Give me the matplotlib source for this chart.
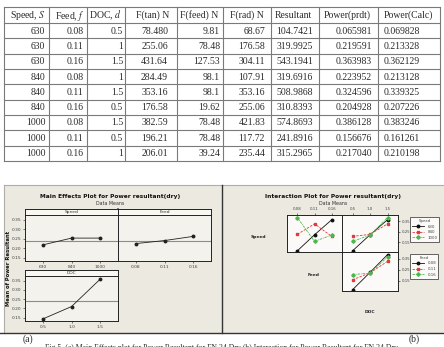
import matplotlib
matplotlib.use('Agg')
import matplotlib.pyplot as plt
from matplotlib.patches import Rectangle
from matplotlib.lines import Line2D

plt.rcParams['mathtext.fontset'] = 'stix'

# table data (as printed)
headers = ['Speed, $S$', 'Feed, $f$', 'DOC, $d$', 'F(tan) N', 'F(feed) N', 'F(rad) N',
           'Resultant', 'Power(prdt)', 'Power(Calc)']
speed_col = ['630', '630', '630', '840', '840', '840', '1000', '1000', '1000']
feed_col = ['0.08', '0.11', '0.16', '0.08', '0.11', '0.16', '0.08', '0.11', '0.16']
doc_col = ['0.5', '1', '1.5', '1', '1.5', '0.5', '1.5', '0.5', '1']
ftan_col = ['78.480', '255.06', '431.64', '284.49', '353.16', '176.58', '382.59', '196.21', '206.01']
ffeed_col = ['9.81', '78.48', '127.53', '98.1', '98.1', '19.62', '78.48', '78.48', '39.24']
frad_col = ['68.67', '176.58', '304.11', '107.91', '353.16', '255.06', '421.83', '117.72', '235.44']
result_col = ['104.7421', '319.9925', '543.1941', '319.6916', '508.9868', '310.8393',
              '574.8693', '241.8916', '315.2965']
pprdt_col = ['0.065981', '0.219591', '0.363983', '0.223952', '0.324596', '0.204928',
             '0.386128', '0.156676', '0.217040']
pcalc_col = ['0.069828', '0.213328', '0.362129', '0.213128', '0.339325', '0.207226',
             '0.383246', '0.161261', '0.210198']

# main effects means
speed_levels = ['630', '840', '1000']
feed_levels = ['0.08', '0.11', '0.16']
doc_levels = ['0.5', '1.0', '1.5']
speed_means = [0.217, 0.253, 0.253]
feed_means = [0.224, 0.240, 0.262]
doc_means = [0.143, 0.210, 0.358]
grand_mean = 0.240

# interaction means
speed_by_feed = {'630': [0.066, 0.220, 0.364], '840': [0.224, 0.325, 0.205], '1000': [0.386, 0.157, 0.217]}
speed_by_doc = {'630': [0.066, 0.220, 0.364], '840': [0.205, 0.224, 0.325], '1000': [0.157, 0.217, 0.386]}
feed_by_doc = {'0.08': [0.066, 0.224, 0.386], '0.11': [0.157, 0.220, 0.325], '0.16': [0.205, 0.217, 0.364]}

W, H = 444, 347
beige = '#ECE9E1'
txtc = '#2a2a2a'


def box(x0, y0, x1, y1):
    return [x0 / W, 1 - y1 / H, (x1 - x0) / W, (y1 - y0) / H]


fig = plt.figure(figsize=(4.44, 3.47), dpi=100)
bg = fig.add_axes([0, 0, 1, 1])
bg.set_xlim(0, W)
bg.set_ylim(H, 0)
bg.axis('off')

# ---- table
col_edges = [4, 49.3, 87.3, 125, 177, 222.5, 271, 319, 378, 440]
row_edges = [7.3, 22.7, 38.3, 53.5, 69, 84.3, 99.5, 114.7, 130, 145.5, 160.8]
for x in col_edges:
    bg.plot([x, x], [row_edges[0], row_edges[-1]], color='#7a7a7a', lw=0.8)
for y in row_edges:
    bg.plot([col_edges[0], col_edges[-1]], [y, y], color='#7a7a7a', lw=0.8)

cols = [speed_col, feed_col, doc_col, ftan_col, ffeed_col, frad_col, result_col, pprdt_col, pcalc_col]
head_pad = [6, 6, 2, 11, 3, 7, 4, 5, 6]
right_pad = [4, 4, 2, 9, 2.5, 6, 6, 6, None]
for j, name in enumerate(headers):
    x0, x1 = col_edges[j], col_edges[j + 1]
    yc = (row_edges[0] + row_edges[1]) / 2
    t = bg.text(x0 + head_pad[j], yc + 0.5, name, family='Liberation Serif', fontsize=7,
                color=txtc, ha='left', va='center')
    t.set_clip_box(bg.transData.transform_bbox(
        matplotlib.transforms.Bbox([[x0, row_edges[0]], [x1 - 0.5, row_edges[1]]])))
    for i, v in enumerate(cols[j]):
        yc = (row_edges[i + 1] + row_edges[i + 2]) / 2
        if right_pad[j] is None:
            bg.text(x0 + 6, yc + 0.5, v, family='Liberation Serif', fontsize=7,
                    color=txtc, ha='left', va='center')
        else:
            bg.text(x1 - right_pad[j], yc + 0.5, v, family='Liberation Serif', fontsize=7,
                    color=txtc, ha='right', va='center')

# ---- panel background
bg.add_patch(Rectangle((4, 185), 440, 148, fc=beige, ec='none', zorder=0))
bg.plot([4, 444], [185, 185], color='#b0ada6', lw=0.8)
bg.plot([4, 4], [185, 333], color='#b0ada6', lw=0.8)
bg.plot([0, 444], [333, 333], color='#333333', lw=1.0)
bg.plot([221.5, 221.5], [185, 333], color='#333333', lw=1.0)

bg.text(28, 339.5, '(a)', family='Liberation Serif', fontsize=7, color=txtc, ha='center', va='center')
bg.text(414, 339, '(b)', family='Liberation Serif', fontsize=7, color=txtc, ha='center', va='center')
bg.text(221, 343.5, 'Fig.5. (a) Main Effects plot for Power Resultant for FN 24 Dry '
        '(b) Interaction for Power Resultant for FN 24 Dry',
        family='Liberation Serif', fontsize=5.6, color=txtc, ha='center', va='top')

# ---- (a) main effects
bg.text(110, 196, 'Main Effects Plot for Power resultant(dry)', fontsize=4.2,
        fontweight='bold', ha='center', va='center', color='#111111')
bg.text(110, 203, 'Data Means', fontsize=3.4, ha='center', va='center', color='#333333')
bg.text(8, 268, 'Mean of Power Resultant', fontsize=3.8, fontweight='bold', rotation=90,
        ha='center', va='center', color='#111111')

me_panels = [
    ('Speed', speed_levels, speed_means, (25, 209, 118, 261), True),
    ('Feed', feed_levels, feed_means, (118, 209, 211, 261), False),
    ('DOC', doc_levels, doc_means, (25, 270, 118, 321), True),
]
for name, levels, means, (x0, y0, x1, y1), show_y in me_panels:
    strip = fig.add_axes(box(x0, y0, x1, y0 + 6))
    strip.set_facecolor('#F8F7F3')
    strip.set_xticks([])
    strip.set_yticks([])
    for s in strip.spines.values():
        s.set_linewidth(0.7)
        s.set_color('#222222')
    strip.text(0.5, 0.5, name, fontsize=3.2, ha='center', va='center',
               color='#333333', transform=strip.transAxes)
    ax = fig.add_axes(box(x0, y0 + 6, x1, y1))
    ax.set_facecolor('#F4F2EC')
    pos = [1, 2, 3]
    ax.axhline(grand_mean, color='#8c8c8c', lw=0.8)
    ax.plot(pos, means, color='#222222', lw=0.6, marker='o', ms=1.8)
    ax.set_xlim(0.38, 3.62)
    ax.set_ylim(0.132, 0.375)
    ax.set_xticks(pos)
    ax.set_xticklabels(levels)
    ax.set_yticks([0.15, 0.20, 0.25, 0.30, 0.35])
    ax.set_yticklabels(['0.15', '0.20', '0.25', '0.30', '0.35'])
    ax.tick_params(labelsize=3.2, length=1.5, width=0.5, pad=1.2, colors='#444444')
    if not show_y:
        ax.tick_params(axis='y', left=False, labelleft=False)
    for s in ax.spines.values():
        s.set_linewidth(0.7)
        s.set_color('#222222')
# thicker separator between speed and feed
bg.plot([118, 118], [209, 261], color='#777777', lw=1.4, zorder=10)

# ---- (b) interaction plot
bg.text(333, 196, 'Interaction Plot for Power resultant(dry)', fontsize=4.2,
        fontweight='bold', ha='center', va='center', color='#111111')
bg.text(333, 203, 'Data Means', fontsize=3.4, ha='center', va='center', color='#333333')
bg.text(258, 237, 'Speed', fontsize=3.2, fontweight='bold', ha='center', va='center', color='#222222')
bg.text(314, 275, 'Feed', fontsize=3.2, fontweight='bold', ha='center', va='center', color='#222222')
bg.text(370, 312, 'DOC', fontsize=3.2, fontweight='bold', ha='center', va='center', color='#222222')

styles = [dict(color='#111111', ls='-', marker='o'),
          dict(color='#E03A3A', ls=(0, (3, 1.5)), marker='s'),
          dict(color='#4CB84C', ls=(0, (3, 1, 1, 1)), marker='D')]

cells = [
    (speed_by_feed, feed_levels, (287, 215, 342, 252), True, False),
    (speed_by_doc, doc_levels, (342, 215, 398, 252), True, True),
    (feed_by_doc, doc_levels, (342, 252, 398, 291), False, True),
]
for data, xlevels, (x0, y0, x1, y1), top, right in cells:
    ax = fig.add_axes(box(x0, y0, x1, y1))
    ax.set_facecolor('#FBFAF8')
    for k, (lab, vals) in enumerate(data.items()):
        ax.plot([1, 2, 3], vals, lw=0.6, ms=1.8, **styles[k])
    ax.set_xlim(0.4, 3.6)
    ax.set_ylim(0.055, 0.41)
    ax.set_xticks([1, 2, 3])
    ax.set_yticks([0.15, 0.25, 0.35])
    ax.set_yticklabels(['0.15', '0.25', '0.35'])
    ax.xaxis.tick_top()
    ax.yaxis.tick_right()
    ax.set_xticklabels(xlevels)
    ax.tick_params(labelsize=2.8, length=1.5, width=0.5, pad=1.2, colors='#444444')
    if not top:
        ax.tick_params(axis='x', top=False, labeltop=False)
    if not right:
        ax.tick_params(axis='y', right=False, labelright=False)
    for s in ax.spines.values():
        s.set_linewidth(0.7)
        s.set_color('#222222')

for title, labels, y_top in [('Speed', speed_levels, 217), ('Feed', feed_levels, 254)]:
    handles = [Line2D([], [], lw=0.6, ms=1.8, **st) for st in styles]
    leg = fig.legend(handles, labels, title=title, loc='upper left',
                     bbox_to_anchor=(410 / W, 1 - y_top / H), fontsize=2.8,
                     title_fontsize=2.8, frameon=True, fancybox=False, edgecolor='#222222',
                     handlelength=3.2, borderpad=0.5, labelspacing=0.4, handletextpad=0.8,
                     borderaxespad=0)
    leg.get_frame().set_linewidth(0.6)
    leg.get_frame().set_facecolor('white')
    for t in leg.get_texts():
        t.set_color('#444444')
    leg.get_title().set_color('#444444')

fig.savefig('out.png', dpi=100)
